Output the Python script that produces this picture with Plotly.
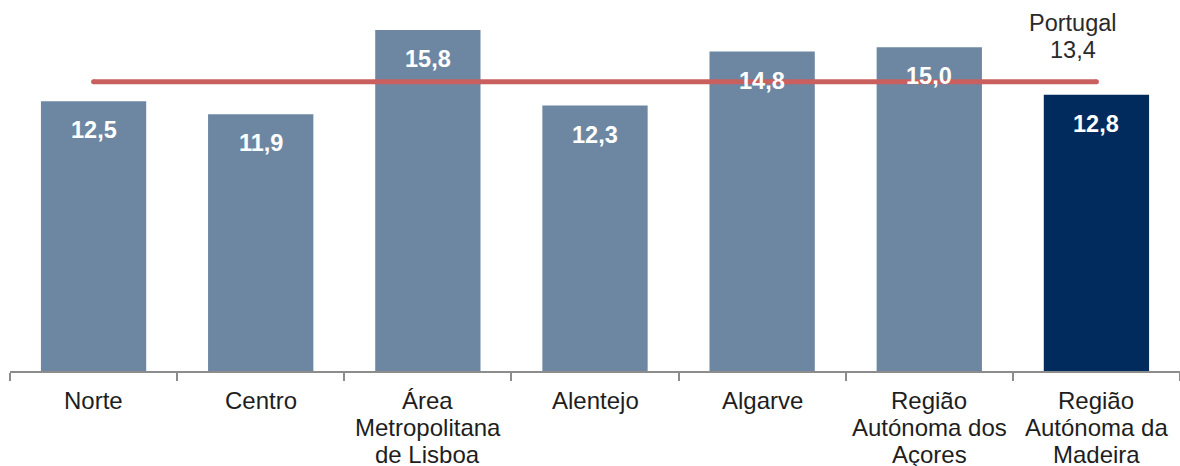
import plotly.graph_objects as go

# Regional values and national reference
regions = [
    "Norte",
    "Centro",
    "Área<br>Metropolitana<br>de Lisboa",
    "Alentejo",
    "Algarve",
    "Região<br>Autónoma dos<br>Açores",
    "Região<br>Autónoma da<br>Madeira",
]
values = [12.5, 11.9, 15.8, 12.3, 14.8, 15.0, 12.8]
value_labels = ["12,5", "11,9", "15,8", "12,3", "14,8", "15,0", "12,8"]
portugal_value = 13.4
portugal_label = "Portugal<br>13,4"

highlight = "Região<br>Autónoma da<br>Madeira"
bar_colors = ["#002b5c" if r == highlight else "#6d87a3" for r in regions]

FONT = "Liberation Sans, Arial, sans-serif"

fig = go.Figure()

fig.add_trace(go.Bar(
    x=regions,
    y=values,
    marker=dict(color=bar_colors, line=dict(width=0)),
    width=0.63,
    hoverinfo="skip",
))

# National average line, drawn from the first to the last region
fig.add_trace(go.Scatter(
    x=[regions[0], regions[-1]],
    y=[portugal_value, portugal_value],
    mode="lines+markers",
    line=dict(color="#c9605f", width=5),
    marker=dict(color="#c9605f", size=5, symbol="circle", line=dict(width=0)),
    hoverinfo="skip",
))

annotations = []
# Value labels inside the top of each bar
for r, v, t in zip(regions, values, value_labels):
    annotations.append(dict(
        x=r, y=v, xref="x", yref="y", text=t, showarrow=False,
        yanchor="middle", yshift=-29,
        font=dict(family=FONT, size=23.5, color="white", weight="bold"),
    ))

# Category labels, one line at a time for tight spacing
for r in regions:
    for i, line in enumerate(r.split("<br>")):
        annotations.append(dict(
            x=r, y=0, xref="x", yref="paper", text=line, showarrow=False,
            yanchor="middle", yshift=-29 - 27 * i,
            font=dict(family=FONT, size=24, color="#1e1e1e"),
        ))

# Portugal label above the end of the line
for i, line in enumerate(portugal_label.split("<br>")):
    annotations.append(dict(
        x=regions[-1], y=portugal_value, xref="x", yref="y", text=line,
        showarrow=False, yanchor="middle", xshift=-23, yshift=59 - 27 * i,
        font=dict(family=FONT, size=23.5, color="#2a2a2a"),
    ))

fig.update_layout(
    width=1180,
    height=466,
    margin=dict(l=10, r=0, t=0, b=95),
    paper_bgcolor="white",
    plot_bgcolor="white",
    showlegend=False,
    annotations=annotations,
    xaxis=dict(
        range=[-0.5, 6.5],
        showticklabels=False,
        ticks="outside",
        tickson="boundaries",
        ticklen=8,
        tickwidth=1.5,
        tickcolor="#8c8c8c",
        showline=True,
        linecolor="#8c8c8c",
        linewidth=1.5,
        showgrid=False,
        zeroline=False,
        fixedrange=True,
    ),
    yaxis=dict(
        range=[0, 17.19],
        visible=False,
        showgrid=False,
        zeroline=False,
    ),
)

fig.write_html("out.html")
